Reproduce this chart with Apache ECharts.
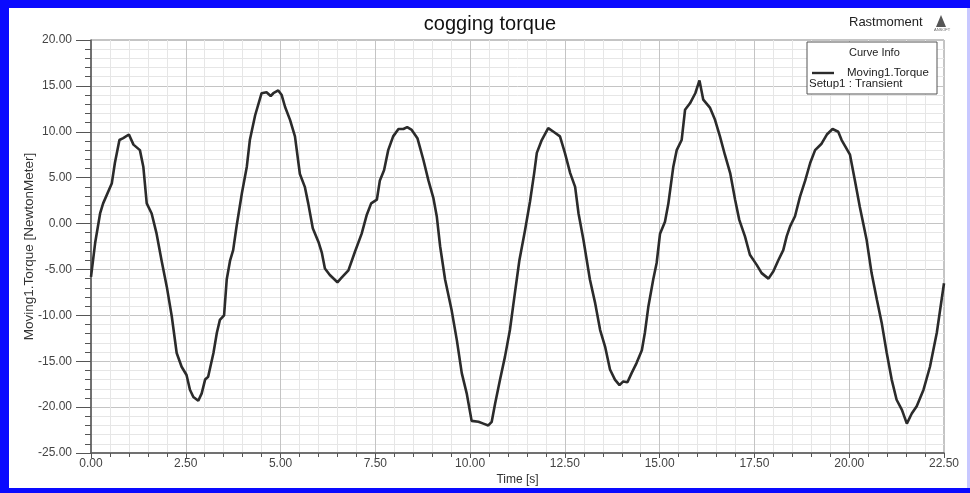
<!DOCTYPE html>
<html>
<head>
<meta charset="utf-8">
<script src="https://cdn.jsdelivr.net/npm/echarts@6/dist/echarts.min.js"></script>
<style>
  html, body { margin: 0; padding: 0; background: #0a0aff; }
  #frame { position: absolute; left: 0; top: 0; width: 970px; height: 493px; background: #0a0aff; }
  #chart { position: absolute; left: 9px; top: 8px; width: 958px; height: 480px; background: #fff; }
  #edge { position: absolute; left: 967px; top: 8px; width: 3px; height: 480px; background: #c8c8ff; }
</style>
</head>
<body>
<div id="frame"><div id="chart"></div><div id="edge"></div></div>
<script>
// Time samples [s]
const time = [
  0.00, 0.11, 0.24, 0.32, 0.55, 0.63, 0.75, 0.85, 1.00, 1.12, 1.29, 1.38, 1.47, 1.60, 1.73, 1.86,
  2.00, 2.13, 2.26, 2.39, 2.52, 2.61, 2.70, 2.83, 2.92, 3.01, 3.09, 3.23, 3.32, 3.40, 3.51, 3.58,
  3.67, 3.75, 3.84, 3.98, 4.11, 4.19, 4.33, 4.50, 4.63, 4.74, 4.81, 4.94, 5.03, 5.12, 5.25, 5.38,
  5.51, 5.64, 5.73, 5.85, 6.00, 6.09, 6.17, 6.30, 6.50, 6.61, 6.79, 6.96, 7.14, 7.27, 7.39, 7.54,
  7.62, 7.73, 7.84, 7.97, 8.11, 8.24, 8.34, 8.46, 8.61, 8.77, 8.90, 9.03, 9.12, 9.21, 9.34, 9.51,
  9.65, 9.78, 9.91, 10.04, 10.22, 10.35, 10.48, 10.57, 10.66, 10.79, 10.92, 11.05, 11.18, 11.30,
  11.45, 11.58, 11.69, 11.76, 11.89, 12.06, 12.20, 12.37, 12.50, 12.64, 12.77, 12.86, 12.99, 13.16,
  13.30, 13.43, 13.56, 13.69, 13.82, 13.94, 14.04, 14.15, 14.26, 14.39, 14.53, 14.61, 14.70, 14.83,
  14.92, 15.01, 15.14, 15.23, 15.36, 15.45, 15.58, 15.67, 15.80, 15.94, 16.05, 16.15, 16.33, 16.46,
  16.59, 16.72, 16.86, 16.99, 17.10, 17.25, 17.38, 17.56, 17.69, 17.87, 18.00, 18.13, 18.26, 18.35,
  18.44, 18.57, 18.70, 18.84, 18.97, 19.10, 19.27, 19.41, 19.56, 19.71, 19.80, 20.02, 20.15, 20.28,
  20.46, 20.59, 20.73, 20.86, 20.99, 21.12, 21.25, 21.39, 21.52, 21.65, 21.78, 21.96, 22.13, 22.31,
  22.50
];

// Moving1.Torque [NewtonMeter]
const torque = [
  -5.8, -2.1, 1.1, 2.2, 4.4, 6.6, 9.1, 9.3, 9.7, 8.6, 8.0, 6.2, 2.2, 1.1, -1.1, -4.0,
  -6.9, -10.1, -14.1, -15.6, -16.5, -18.1, -18.9, -19.3, -18.5, -17.0, -16.7, -14.1, -11.9, -10.5, -10.0, -6.1,
  -4.0, -2.9, -0.3, 3.3, 6.2, 9.1, 11.8, 14.2, 14.3, 13.9, 14.2, 14.5, 14.0, 12.7, 11.3, 9.5,
  5.4, 4.0, 2.2, -0.5, -2.0, -3.2, -4.9, -5.6, -6.4, -5.9, -5.1, -3.1, -1.1, 0.9, 2.2, 2.6,
  4.7, 5.8, 8.0, 9.5, 10.3, 10.3, 10.5, 10.2, 9.3, 6.9, 4.7, 2.8, 0.8, -2.5, -6.1, -9.4,
  -12.7, -16.3, -18.5, -21.5, -21.6, -21.8, -22.0, -21.6, -19.6, -17.0, -14.5, -11.6, -7.6, -4.0,
  -0.7, 2.4, 5.5, 7.7, 9.1, 10.4, 10.0, 9.5, 7.7, 5.5, 4.0, 1.1, -1.8, -6.1,
  -8.7, -11.6, -13.4, -15.9, -17.0, -17.6, -17.2, -17.3, -16.3, -15.2, -13.8, -11.9, -9.1, -6.1,
  -4.3, -1.1, 0.2, 2.2, 6.2, 8.0, 9.1, 12.4, 13.1, 14.2, 15.6, 13.5, 12.6, 11.3,
  9.5, 7.5, 5.5, 2.6, 0.4, -1.4, -3.4, -4.5, -5.4, -6.0, -5.2, -4.0, -2.9, -1.4,
  -0.3, 0.8, 2.9, 4.7, 6.6, 8.0, 8.7, 9.7, 10.3, 10.0, 9.1, 7.5, 4.7, 1.8,
  -1.8, -5.4, -8.3, -10.9, -14.1, -17.0, -19.2, -20.3, -21.8, -20.7, -19.9, -18.1, -15.6, -11.9,
  -6.5
];

const chartTitle = 'cogging torque';
const projectName = 'Rastmoment';
const seriesName = 'Moving1.Torque';
const setupName = 'Setup1 : Transient';
const xAxisName = 'Time [s]';
const yAxisName = 'Moving1.Torque [NewtonMeter]';

const FONT = '"Liberation Sans", Arial, sans-serif';
const points = time.map((t, i) => [t, torque[i]]);

const chart = echarts.init(document.getElementById('chart'), null, { renderer: 'canvas' });

chart.setOption({
  animation: false,
  backgroundColor: '#ffffff',
  textStyle: { fontFamily: FONT },
  title: {
    text: chartTitle,
    left: 476, top: 1, textAlign: 'center',
    textStyle: { fontFamily: FONT, fontSize: 20, fontWeight: 'normal', color: '#111' }
  },
  grid: {
    left: 82, top: 32, right: 23, bottom: 35,
    containLabel: false, outerBoundsMode: 'none',
    show: true, borderColor: '#8a8a8a', borderWidth: 1, backgroundColor: 'transparent'
  },
  legend: {
    data: [seriesName],
    left: 803, top: 59, z: 20, padding: 0,
    itemWidth: 22, itemHeight: 10, itemGap: 4,
    icon: 'path://M0,3.8 L22,3.8 L22,6.2 L0,6.2 Z',
    textStyle: { fontFamily: FONT, fontSize: 11.5, color: '#222', padding: [0, 0, 0, 8] }
  },
  xAxis: {
    type: 'value',
    min: 0, max: 22.5, interval: 2.5,
    name: xAxisName, nameLocation: 'middle', nameGap: 21, nameMoveOverlap: false,
    nameTextStyle: { fontFamily: FONT, fontSize: 12, color: '#333' },
    axisLine: { show: true, onZero: false, lineStyle: { color: '#555', width: 1.5 } },
    axisTick: { show: true, length: 5, lineStyle: { color: '#555' } },
    minorTick: { show: true, splitNumber: 5, length: 4, lineStyle: { color: '#555' } },
    axisLabel: {
      fontFamily: FONT, fontSize: 12, color: '#444', margin: 5,
      formatter: v => v.toFixed(2)
    },
    splitLine: { show: true, lineStyle: { color: '#c4c4c4', width: 1 } },
    minorSplitLine: { show: true, lineStyle: { color: '#e6e6e6', width: 1 } }
  },
  yAxis: {
    type: 'value',
    min: -25, max: 20, interval: 5,
    name: yAxisName, nameLocation: 'middle', nameGap: 55, nameRotate: 90, nameMoveOverlap: false,
    nameTextStyle: { fontFamily: FONT, fontSize: 13.5, color: '#333' },
    axisLine: { show: true, onZero: false, lineStyle: { color: '#555', width: 1.5 } },
    axisTick: { show: true, length: 15, lineStyle: { color: '#555' } },
    minorTick: { show: true, splitNumber: 5, length: 6, lineStyle: { color: '#555' } },
    axisLabel: {
      fontFamily: FONT, fontSize: 12, color: '#444', margin: 19,
      formatter: v => v.toFixed(2)
    },
    splitLine: { show: true, lineStyle: { color: '#c4c4c4', width: 1 } },
    minorSplitLine: { show: true, lineStyle: { color: '#e6e6e6', width: 1 } }
  },
  graphic: [
    // project label and logo, top right
    { type: 'text', left: 840, top: 8, z: 10,
      style: { text: projectName, font: '13px ' + FONT, fill: '#222' } },
    { type: 'polygon', z: 10,
      shape: { points: [[932, 7], [927, 19], [937, 19]] },
      style: { fill: '#555' } },
    { type: 'text', left: 925, top: 20, z: 10,
      style: { text: 'ANSOFT', font: '4px ' + FONT, fill: '#666' } },
    // curve info box
    { type: 'rect', z: 5,
      shape: { x: 798, y: 34, width: 130, height: 52 },
      style: { fill: '#fff', stroke: '#555', lineWidth: 1 } },
    { type: 'text', left: 840, top: 39, z: 10,
      style: { text: 'Curve Info', font: '11px ' + FONT, fill: '#222' } },
    { type: 'text', left: 800, top: 70, z: 10,
      style: { text: setupName, font: '11.5px ' + FONT, fill: '#222' } }
  ],
  series: [{
    name: seriesName,
    type: 'line',
    data: points,
    showSymbol: false,
    smooth: false,
    z: 3,
    lineStyle: { color: '#2b2b2b', width: 2.6 },
    itemStyle: { color: '#2b2b2b' }
  }]
});
</script>
</body>
</html>
